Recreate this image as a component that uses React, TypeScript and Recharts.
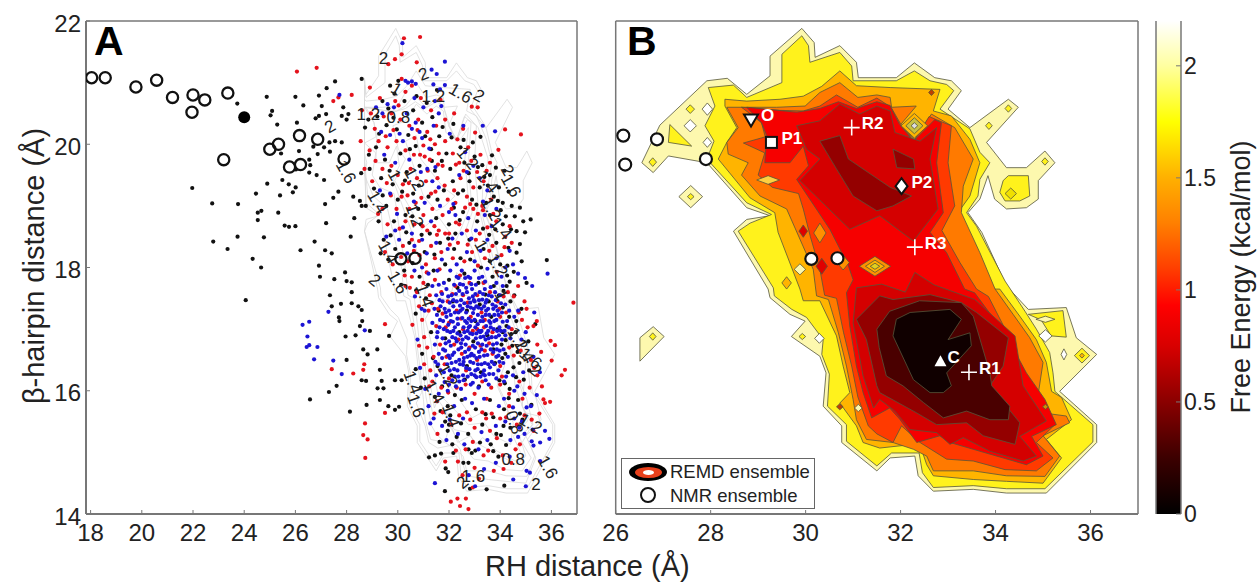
import { ComposedChart, Line, Scatter, XAxis, YAxis, Bar } from 'recharts'

// values: x = RH distance, y = beta-hairpin distance (angstrom)
const xTicksA = [18, 20, 22, 24, 26, 28, 30, 32, 34, 36]
const xTicksB = [26, 28, 30, 32, 34, 36]
const yTicks = [14, 16, 18, 20, 22]
const barTicks = [0, 0.5, 1, 1.5, 2]

const nmrOpen = [[18.04,21.08],[18.57,21.08],[19.77,20.93],[20.58,21.04],[21.2,20.76],[22.0,20.8],[22.46,20.72],[23.36,20.83],[21.96,20.52],[23.2,19.75],[25.0,19.92],[25.34,20.0],[26.16,20.14],[26.87,20.08],[25.77,19.63],[26.2,19.67],[27.9,19.76],[30.12,18.14],[30.67,18.15]]
const nmrFilled = [[24.0,20.44]]
const nmrInB = [[26.16,20.14],[26.87,20.08],[26.2,19.67],[27.9,19.76],[30.12,18.14],[30.67,18.15]]

const blackPts = [[23.73,20.66],[24.88,20.77],[26.0,20.77],[26.92,20.79],[26.31,20.63],[25.09,20.54],[25.03,20.47],[25.29,20.32],[26.06,20.35],[26.79,20.42],[26.92,20.46],[26.14,19.89],[26.7,19.96],[26.87,19.84],[25.44,19.85],[26.54,19.75],[26.58,19.66],[26.54,19.54],[26.83,19.5],[26.02,19.59],[21.97,19.29],[22.75,19.04],[23.76,19.03],[24.46,19.2],[24.9,19.36],[25.49,19.42],[25.74,19.35],[26.01,19.3],[25.9,19.22],[25.4,19.17],[24.53,18.89],[24.67,18.92],[24.53,18.77],[25.33,18.89],[25.58,18.68],[25.75,18.66],[26.0,18.67],[22.79,18.42],[23.74,18.5],[24.77,18.49],[23.35,18.3],[24.33,18.14],[24.66,18.0],[26.2,18.28],[26.75,18.42],[26.92,18.03],[26.96,17.85],[24.06,17.47],[26.57,15.86],
[27.55,21.02],[28.59,21.06],[27.22,20.91],[27.03,20.62],[27.2,20.49],[27.87,20.6],[27.81,20.46],[28.07,20.49],[28.0,20.4],[27.33,20.03],[27.55,20.05],[27.81,20.03],[27.12,19.95],[27.35,19.88],[27.12,19.42],[27.68,19.23],[27.48,19.13],[28.26,19.15],[28.52,19.08],[27.16,19.03],[28.59,19.0],[28.75,19.0],[28.3,18.8],[27.2,18.72],[28.16,18.5],[27.16,18.28],[27.42,18.23],[27.52,17.81],[27.94,17.92],[28.0,17.78],[28.2,17.76],[35.82,18.12],[35.19,18.78],[34.9,18.75],[34.77,18.97],[34.45,19.0],[34.64,18.59],[34.97,18.57],[34.77,18.38],[34.64,18.24],[34.84,18.1],[34.32,18.32],[35.03,17.75],
[27.35,17.55],[28.2,17.6],[27.78,17.41],[28.2,17.42],[27.42,17.37],[28.46,17.37],[28.59,17.31],[27.7,17.19],[27.72,17.13],[28.61,17.13],[28.52,17.05],[28.91,16.97],[27.96,16.88],[28.35,16.9],[28.65,16.67],[29.2,16.67],[28.82,16.59],[29.66,16.89],[28.0,16.5],[29.3,16.34],[28.59,16.17],[28.76,16.16],[29.37,16.16],[29.21,16.04],[29.44,16.04],[27.61,16.08],[27.31,15.98],[29.3,15.85],[28.78,15.77],[28.13,15.66],[29.63,15.75],[30.05,15.74],[29.89,15.69],[29.89,16.17],[30.15,16.17],
[31.22,14.92],[31.45,14.95],[31.69,14.98],[32.17,14.99],[31.87,14.74],[31.97,14.68],[31.84,14.37],[32.82,14.41],[33.47,14.4],[34.16,14.46],[32.56,14.83],[32.76,14.83],[32.89,14.99],[32.76,15.05],[33.73,15.02],[33.21,15.16]]

// dense part of the black cloud, estimated by eye
const blackCloud = [[29.7,20.95],[30.02,21.03],[29.4,20.7],[29.87,20.82],[30.26,20.7],[30.6,20.55],[29.2,20.45],[28.85,20.4],[29.56,20.31],[29.96,20.24],[30.41,20.15],[30.95,20.35],[31.35,20.44],[31.75,20.28],[32.1,20.11],[32.45,19.95],[31.9,19.85],[31.3,19.92],[30.7,19.97],[30.1,19.85],[29.5,19.75],[29.15,19.95],[28.9,19.6],[29.35,19.45],[29.8,19.35],[30.35,19.55],[30.85,19.65],[31.45,19.57],[32.05,19.6],[32.6,19.7],[33.0,19.8],[33.3,19.66],[33.6,19.5],[33.95,19.3],[33.2,19.3],[32.8,19.4],[32.35,19.2],[31.8,19.25],[31.2,19.15],[30.6,19.2],[30.0,19.1],[29.55,19.0],[29.25,18.75],[29.85,18.75],[30.3,18.85],[30.9,18.7],[31.5,18.8],[32.0,18.7],[32.55,18.9],[33.1,18.75],[33.6,18.85],[34.1,18.7],[33.85,18.4],[33.35,18.3],[32.8,18.45],[32.2,18.3],[31.65,18.4],[31.05,18.25],[30.45,18.4],[29.9,18.3],[29.45,18.45],[30.25,17.95],[30.85,17.85],[31.4,17.95],[32.0,17.8],[32.6,17.9],[33.15,17.75],[33.7,17.85],[34.25,17.7],[34.55,17.55],[34.1,17.35],[33.65,17.2],[33.2,17.4],[32.7,17.3],[32.15,17.45],[31.6,17.3],[31.1,17.5],[30.7,17.25],[31.3,16.95],[31.85,16.85],[32.4,16.95],[32.95,16.8],[33.5,16.9],[34.05,16.75],[34.6,16.95],[35.1,16.8],[34.75,16.45],[34.3,16.3],[33.8,16.45],[33.25,16.3],[32.7,16.4],[32.1,16.25],[31.55,16.4],[31.05,16.2],[31.45,15.9],[31.95,15.75],[32.05,15.6],[31.85,15.5],[32.0,15.45],[32.5,15.85],[33.05,15.7],[33.6,15.85],[34.15,15.7],[34.7,15.85],[34.4,15.4],[33.85,15.3],[33.3,15.45],[32.75,15.3],[32.3,15.25],[31.95,15.35],[30.9,16.05],[30.7,16.35],[30.95,16.6],[34.25,17.05],[33.9,17.0],[34.2,16.6],[34.1,16.95],[34.35,17.2],[34.4,17.45],[33.95,17.55],[33.75,17.7],[33.55,17.45],[34.0,18.05],[33.6,18.1],[33.25,18.0],[34.1,19.05],[33.75,19.15],[33.45,19.05],[32.9,19.1],[32.55,19.25],[32.25,18.55],[32.45,18.15],[31.85,18.05],[31.25,18.55],[30.8,18.95],[31.55,19.1],[32.15,19.4],
[29.63,20.58],[31.13,20.67],[30.28,19.41],[32.77,19.53],[33.83,19.62],[29.41,19.17],[31.72,19.73],[30.57,18.83],[33.38,19.47],[32.19,18.97],[34.33,19.23],[29.72,18.52],[31.43,18.21],[33.07,19.02],[30.13,17.72],[32.83,18.13],[34.57,18.83],[31.97,18.47],[33.57,18.53],[30.72,17.63],[34.28,18.03],[32.33,17.67],[33.42,17.56],[31.18,17.72],[34.83,17.33],[33.03,17.13],[34.63,17.13],[31.37,16.53],[33.73,16.67],[32.62,16.18],[34.47,16.73],[31.73,16.07],[35.37,17.08],[33.17,16.07],[34.92,16.18],[32.23,15.93],[34.37,16.03],[31.67,15.67],[35.13,16.33],[33.43,15.62],[34.03,15.28],[32.47,15.47],[35.22,15.77],[33.63,15.13],[34.87,15.53],[31.63,15.17],[32.13,15.13],[33.03,15.03],[34.23,15.12],[33.93,14.93],[34.27,17.87],[34.53,17.93],[34.13,17.62],[34.37,17.77],[34.43,16.92],[34.68,16.63],[34.21,16.82],[34.52,16.38],[34.08,16.53],[34.33,15.88],[34.62,16.22],[33.97,16.17],[34.18,16.12],[34.77,15.63],[34.13,15.43],[33.73,15.57],[33.33,18.63],[33.81,18.62],[34.02,18.93],[34.42,18.62],[34.22,18.83],[33.91,19.08],[33.52,19.33],[33.13,19.63],[34.17,19.57],[33.68,19.82],[32.93,20.03],[32.57,20.07],[33.23,20.12],[32.17,20.33],[31.62,20.13],[31.07,20.13],[30.47,19.92],[29.83,20.43],[29.27,20.17],[30.73,20.78],[31.53,20.88],[28.72,20.27],[28.87,19.83],[28.57,19.53],[29.07,19.28],[29.68,19.57],[30.17,19.23],[30.82,19.33],[31.33,19.73],[32.42,18.77],[30.33,18.57],[30.93,18.53],[29.63,18.13],[29.33,18.23],[30.58,18.07]]

const redPts = [[26.06,21.18],[26.83,21.24],[30.87,21.74],[30.24,21.72],[30.15,21.46],[29.89,21.38],[29.63,21.3],[30.74,21.33],[30.15,21.06],[28.91,20.92],[27.48,20.7],[28.2,20.8],[27.68,20.76],[34.19,20.24],[34.81,20.16],[33.93,19.91],[32.89,20.61],[33.12,20.6],[33.02,20.19],[27.42,16.35],[28.26,16.28],[28.65,16.34],[28.69,16.43],[29.5,17.08],[29.5,15.64],[28.72,15.47],[28.65,15.28],[28.82,15.21],[28.73,14.91],[36.86,17.43],[35.97,16.81],[36.14,16.74],[36.01,16.49],[36.53,16.34],[36.4,16.25],[35.69,15.86],[35.95,15.82],[35.75,15.8],[32.07,14.2],[32.33,14.25],[32.66,14.25],[32.43,14.13],[32.76,14.08]]

// dense part of the red cloud, estimated by eye
const redCloud = [[29.3,20.75],[29.9,20.7],[30.3,20.85],[30.55,20.95],[30.9,20.75],[31.3,20.55],[28.6,20.55],[28.95,20.5],[29.1,20.25],[29.45,20.45],[29.75,20.5],[30.1,20.4],[30.45,20.3],[30.8,20.4],[31.15,20.2],[31.5,20.3],[31.85,20.4],[32.2,20.5],[32.55,20.25],[28.55,20.05],[28.9,19.9],[29.25,20.05],[29.6,19.95],[29.95,20.05],[30.3,19.9],[30.65,20.1],[31.0,19.98],[31.05,19.8],[31.25,19.75],[31.45,20.0],[31.6,19.85],[31.85,20.05],[32.15,19.85],[32.4,19.7],[32.75,19.95],[33.1,19.55],[33.35,19.4],[33.6,19.7],[28.7,19.6],[29.0,19.4],[29.4,19.6],[29.75,19.65],[30.0,19.5],[30.2,19.35],[30.5,19.6],[30.75,19.45],[31.1,19.4],[31.3,19.2],[31.55,19.45],[31.75,19.65],[31.95,19.1],[32.2,19.25],[32.25,19.05],[32.45,19.45],[32.7,19.15],[32.95,19.3],[33.3,19.0],[33.65,19.1],[29.4,18.95],[29.6,18.7],[29.95,18.95],[30.15,19.15],[30.3,18.75],[30.45,18.95],[30.65,18.7],[30.7,19.05],[31.0,18.85],[31.15,18.6],[31.35,18.95],[31.6,18.6],[31.75,18.85],[32.0,18.55],[32.1,18.95],[32.4,18.7],[32.7,18.6],[32.95,18.95],[33.2,18.55],[33.5,18.65],[33.85,18.75],[34.2,18.5],[29.5,18.25],[29.8,18.05],[30.2,18.35],[30.4,18.1],[30.55,18.45],[30.85,18.2],[31.1,18.05],[31.3,18.35],[31.45,18.15],[31.7,18.25],[31.85,18.55],[32.15,18.15],[32.35,18.4],[32.6,18.1],[32.9,18.25],[33.05,18.45],[33.4,18.15],[33.7,18.35],[34.05,18.2],[34.45,18.4],[30.3,17.7],[30.55,17.85],[30.75,17.6],[31.0,17.75],[31.25,17.55],[31.45,17.8],[31.7,17.6],[31.95,17.45],[32.25,17.7],[32.55,17.55],[32.8,17.75],[33.1,17.55],[33.35,17.75],[33.6,17.6],[33.9,17.45],[34.3,17.6],[34.7,17.7],[34.95,17.45],[30.95,17.15],[31.2,17.3],[31.5,17.05],[31.75,17.25],[32.0,17.1],[32.3,17.3],[32.55,17.0],[32.85,17.2],[33.1,17.0],[33.4,17.15],[33.7,16.95],[34.0,17.2],[34.45,17.0],[34.85,17.15],[35.3,17.05],[31.15,16.7],[31.4,16.55],[31.65,16.75],[31.9,16.55],[32.2,16.75],[32.5,16.6],[32.8,16.7],[33.1,16.5],[33.4,16.65],[33.7,16.6],[34.0,16.4],[34.35,16.7],[34.8,16.65],[35.2,16.5],[35.45,16.75],[31.35,16.15],[31.7,16.05],[32.0,16.2],[32.3,16.05],[32.65,16.1],[33.0,15.95],[33.3,16.15],[33.65,16.05],[34.0,16.1],[34.35,15.95],[34.75,16.15],[35.15,16.05],[35.45,16.25],[31.75,15.65],[32.1,15.45],[32.4,15.6],[32.7,15.65],[33.0,15.4],[33.3,15.65],[33.45,15.55],[33.6,15.35],[34.0,15.55],[34.35,15.75],[34.65,15.45],[34.95,15.6],[35.3,15.35],[32.35,14.85],[32.65,15.05],[33.0,14.75],[33.35,14.95],[33.75,14.7],[34.1,14.95],[34.6,15.05],[31.55,15.3],[31.85,14.85],
[30.03,20.63],[31.67,20.72],[29.53,20.13],[30.77,20.23],[32.33,20.08],[31.27,20.08],[29.13,19.73],[30.87,19.83],[32.57,19.57],[33.23,19.83],[30.38,19.17],[31.83,19.33],[32.87,19.73],[29.73,19.17],[31.47,19.23],[33.47,19.57],[30.92,19.13],[32.63,18.97],[29.23,18.87],[30.83,18.43],[32.27,18.73],[33.73,18.87],[30.07,18.63],[31.53,18.53],[33.33,18.93],[34.37,18.67],[30.63,18.27],[32.03,18.37],[33.57,18.27],[30.97,18.67],[32.73,18.37],[34.17,18.33],[30.27,17.87],[31.63,17.97],[33.13,18.03],[34.53,17.53],[31.13,17.92],[32.43,17.87],[33.87,17.93],[31.33,17.42],[32.73,17.43],[34.13,17.53],[30.83,17.37],[32.13,17.57],[33.27,17.27],[34.73,17.27],[31.57,17.33],[32.93,16.97],[34.23,17.27],[31.03,16.87],[32.37,16.83],[33.57,16.77],[35.07,17.03],[31.83,16.43],[33.23,16.73],[34.53,16.57],[31.27,16.33],[32.67,16.33],[34.07,16.23],[35.33,16.37],[31.97,15.97],[33.47,15.87],[34.87,15.87],[31.53,15.83],[32.83,15.53],[34.23,15.57],[35.23,15.53],[32.27,15.03],[33.67,15.63],[34.77,15.13],[32.53,14.63],[33.87,15.23],[33.17,14.57],[32.93,14.43],[34.43,14.83],[30.57,17.07],[30.83,16.73],[31.03,16.43],[31.23,16.07],[31.43,15.63],[35.03,17.33],[35.43,17.13],[35.6,16.63],[35.63,16.07],[35.53,15.63],[32.93,15.17],[33.53,15.03],[34.13,14.73],[29.83,20.23],[30.63,19.83],[31.57,19.67],[32.27,19.67],[31.17,19.57],[30.43,19.37],[29.57,19.37],[32.83,19.03],[33.13,18.87],[31.43,18.67],[30.13,18.17],[30.47,17.67],[33.97,17.33],[33.37,17.03],[32.47,17.17],[31.87,17.03]]

const bluePts = [[26.28,17.07],[26.54,17.12],[26.47,16.88],[26.44,16.71],[26.54,16.74],[26.86,16.71],[26.73,16.51],[27.29,17.28],[27.48,16.49],[27.81,16.27],[28.71,16.98],[30.18,21.64],[31.84,21.34],[31.32,21.21],[31.52,21.14],[31.84,20.96],[31.65,20.89],[31.39,20.97],[27.72,20.8],[33.32,20.3],[32.56,20.3],[33.8,20.21],[30.3,21.03],[30.4,21.0],[30.55,21.02],[30.7,20.98],
[35.56,14.86],[35.03,14.7],[35.16,14.67],[34.51,14.56],[35.0,14.45],[31.45,14.5],[33.02,14.45],[35.75,15.35],[35.92,15.22],[35.56,15.16],[35.23,15.18],[35.3,15.11],[34.7,15.25],[34.85,15.5],[34.95,15.3],[34.55,15.55],[34.75,15.4],[34.4,15.2],[34.2,15.5],[33.95,15.75],[33.5,15.2],[33.15,15.05],[32.55,15.55],[32.2,15.75],[31.9,15.2],[31.4,15.55],[31.2,15.75],[31.6,15.95],[31.95,16.0],[32.35,15.3],[32.9,15.8]]

// upper and lower blue scatter, estimated by eye
const blueScatter = [[29.15,20.6],[29.4,20.5],[29.6,20.65],[29.85,20.6],[30.35,20.5],[30.65,20.75],[31.0,20.6],[31.45,20.7],[31.7,20.62],[31.6,20.5],[31.4,20.3],[30.55,20.25],[30.85,20.2],[30.95,20.1],[30.7,20.35],[29.35,20.2],[29.7,20.15],[29.9,19.7],[30.2,20.05],[30.45,19.75],[30.9,19.55],[31.15,19.6],[31.35,19.4],[31.6,19.3],[32.4,19.5],[32.7,19.55],[32.95,19.65],[33.2,19.45],[33.5,19.25],[33.85,18.95],[33.4,18.85],[33.05,18.6],[32.75,18.8],[32.5,18.55],[32.25,18.85],[32.0,18.9],[31.65,19.0],[31.3,18.75],[31.05,19.05],[30.55,18.55],[30.2,18.65],[29.9,18.6],[29.7,19.2],[29.3,19.25],[29.55,18.5],[30.05,18.45],[30.65,18.35],[30.95,18.45],[31.5,18.4],[31.95,18.3],[32.3,18.05],[32.7,18.25],[33.0,18.1],[33.5,18.45],[33.85,18.15],[34.2,18.0],[34.5,18.05],[35.85,17.9],[35.25,17.7],[34.7,17.9],[30.65,17.95],[30.95,18.0],[31.2,17.9],[31.55,17.95],[31.8,17.75],[32.05,17.95],[32.3,17.85],[32.5,17.95],[32.75,17.85],[33.0,17.95],[33.3,17.85],[33.5,17.98],[33.85,17.75],[34.05,17.85],
[30.07,20.17],[31.23,19.93],[32.03,20.17],[32.63,19.87],[29.47,19.83],[30.63,19.07],[31.47,19.63],[33.33,19.07],[32.17,19.03],[29.97,18.87],[31.13,18.23],[32.87,18.47],[33.67,18.67],[32.13,18.47],[30.37,18.23],[31.72,18.13],[33.23,18.27],[34.37,18.27],[34.97,17.83],[35.33,17.27],[34.83,16.83],[35.43,15.93],[35.03,15.73],[34.67,16.07],[35.27,15.37],[34.37,14.93],[33.83,14.83],[33.37,14.73],[32.77,14.63],[32.6,15.13],[33.27,15.33],[33.83,15.43],[34.5,15.73],[34.15,15.87],[33.37,15.87],[32.63,15.87],[32.03,15.53],[31.73,15.43],[31.27,15.47],[31.07,16.03],[30.87,16.37],[30.77,16.83],[30.93,17.33],[30.67,17.53]]

// blue core, almost solid in the figure, estimated by eye
const blueCore = [[31.05,17.3],[31.35,17.7],[31.5,17.55],[31.6,17.72],[31.75,17.45],[31.9,17.65],[32.0,17.3],[32.1,17.55],[32.2,17.72],[32.3,17.45],[32.4,17.62],[32.45,17.3],[32.55,17.72],[32.6,17.42],[32.7,17.6],[32.78,17.5],[32.85,17.35],[32.9,17.65],[33.0,17.45],[33.05,17.72],[33.15,17.35],[33.2,17.6],[33.3,17.48],[33.4,17.65],[33.45,17.3],[33.55,17.55],[33.7,17.4],[33.8,17.6],[33.9,17.3],[34.0,17.55],[34.1,17.7],[34.2,17.4],[34.35,17.3],[34.55,17.2],[31.35,17.1],[31.55,16.95],[31.65,17.15],[31.8,17.0],[31.9,17.2],[32.05,16.95],[32.15,17.12],[32.25,16.85],[32.35,17.08],[32.45,16.9],[32.52,17.18],[32.6,16.95],[32.7,17.1],[32.75,16.85],[32.82,17.05],[32.92,16.92],[33.0,17.15],[33.05,16.85],[33.12,17.08],[33.22,16.95],[33.3,17.2],[33.35,16.88],[33.45,17.05],[33.55,16.85],[33.62,17.1],[33.75,17.0],[33.85,17.15],[33.95,16.9],[34.1,17.12],[34.2,16.9],[34.4,16.85],[34.7,17.3],[35.0,16.95],[31.45,16.75],[31.6,16.6],[31.75,16.85],[31.85,16.65],[32.0,16.8],[32.1,16.45],[32.2,16.62],[32.3,16.8],[32.4,16.5],[32.48,16.7],[32.55,16.42],[32.65,16.75],[32.72,16.55],[32.8,16.35],[32.88,16.6],[32.95,16.45],[33.02,16.7],[33.12,16.35],[33.2,16.55],[33.3,16.75],[33.4,16.45],[33.5,16.58],[33.6,16.38],[33.72,16.75],[33.85,16.55],[33.98,16.65],[34.12,16.45],[34.3,16.55],[34.5,16.25],[34.9,16.3],[35.3,16.55],[35.55,16.3],[31.5,16.25],[31.8,16.3],[32.0,16.1],[32.2,16.35],[32.4,16.15],[32.55,16.25],[32.85,16.1],[33.0,16.25],[33.15,16.05],[33.4,16.25],[33.55,16.1],[33.85,16.2],[34.15,16.15],[34.55,16.0],[34.95,15.95],[35.2,15.75],
[32.37,17.83],[33.07,16.22],[32.43,17.38],[33.88,16.97],[32.13,16.58],[33.41,17.77],[31.83,16.14],[32.94,17.26],[34.03,17.42],[32.27,16.07],[33.63,17.68],[32.58,16.53],[31.67,17.37],[33.27,16.43],[32.83,17.83],[33.93,16.33],[32.07,17.23],[33.53,16.97],[31.93,16.43],[32.67,17.27],[33.17,17.83],[34.07,16.83],[32.33,16.33],[33.77,17.23],[31.53,16.87],[32.87,16.27],[33.37,17.37],[32.17,17.37],[33.67,16.47],[32.63,17.83],[31.97,17.53],[33.13,16.77],[34.27,17.13],[32.47,16.03],[33.83,17.47],[31.73,16.53],[32.77,17.17],[33.43,16.17],[32.23,17.03],[33.03,17.57],[33.57,17.23],[31.87,16.77],[32.53,16.83],[33.97,17.03],[32.93,16.13],[33.33,17.57],[32.03,16.33],[33.73,16.27],[31.63,17.47],[32.73,16.97],[33.23,16.23],[32.27,17.57],[34.13,16.67],[32.83,16.47],[33.47,17.47],[31.77,17.13],[32.57,17.03],[33.07,17.37],[33.87,16.77],[32.37,16.67],[32.97,17.47],[33.63,16.67],[32.13,16.87],[33.27,16.97],[31.43,17.33],[32.67,16.37],[33.53,17.33],[32.47,17.47],[33.17,16.63],[34.23,16.23],[31.97,17.07],[32.77,16.67],[33.43,16.83],[32.33,17.17],[33.77,16.43],[31.57,16.43],[32.87,17.73],[33.37,16.33],[32.07,16.73],[33.93,17.23],[32.53,17.57],[33.07,16.93],[33.67,17.53],[31.83,17.33],[32.63,16.63],[33.23,17.13],[32.23,16.23],[33.03,17.03],[33.83,16.87],[32.43,16.43],[33.47,16.73],[31.73,17.57],[32.93,16.73],[33.33,17.13],[32.17,17.47],[33.57,16.27],[32.73,17.37],[31.47,16.47],[33.13,17.23],[32.83,16.93],[34.33,17.03],[32.03,17.43],[33.63,17.03],[32.57,16.17],[33.97,16.47],[31.93,16.97],[32.37,17.27],[33.27,16.67],[32.97,16.57],[33.73,17.33],[31.67,16.33],[32.47,16.77],[33.17,17.47],[32.77,17.03],[34.07,17.27],[32.27,16.47],[33.43,17.23],[31.87,17.27],[32.67,16.87],[33.53,16.43],[32.13,16.17],[33.83,17.37],[32.93,17.53],[33.07,16.53],[32.33,16.93],[33.67,16.87],[31.53,17.23],[32.63,17.13],[33.37,16.57],[32.07,17.13],[33.77,17.13],[32.83,17.43],[33.23,16.87],[32.43,17.73],[33.93,16.57],[31.77,16.67],[32.57,16.47],[33.13,16.43],[32.97,17.33],[34.17,16.97],[32.23,17.27],[33.47,16.93],[31.97,16.57],[33.57,17.13],[32.73,16.23],[33.33,16.27],[32.17,16.97],[33.87,16.67],[32.87,17.13],[33.03,16.33],[32.53,17.33],[31.63,17.03],[33.27,17.33],[32.37,16.23],[33.73,16.63],[32.67,17.67],[33.17,16.97],[32.03,16.53],[33.43,17.43],[32.83,16.57],[34.03,16.97]]

// filled contour polygons of panel B, outermost level first
const level20 = [[26.55,19.7],[26.93,20.31],[27.92,21.03],[28.35,21.07],[28.76,20.81],[29.25,21.11],[29.25,21.43],[29.92,21.88],[30.18,21.65],[30.2,21.41],[30.72,21.6],[31.07,21.33],[31.11,21.08],[31.91,21.08],[32.29,21.32],[32.72,21.08],[33.07,21.03],[33.28,20.87],[33.0,20.57],[33.46,20.27],[34.27,20.73],[34.48,20.6],[33.81,20.03],[34.23,19.62],[34.65,19.62],[35.04,19.89],[35.25,19.7],[34.9,19.41],[34.9,19.11],[34.65,18.97],[34.23,18.95],[33.98,19.11],[33.84,19.49],[33.67,19.11],[33.42,18.89],[33.71,18.57],[34.23,17.7],[34.69,17.32],[35.49,17.35],[35.7,16.86],[36.13,16.59],[35.35,15.99],[36.13,15.45],[36.13,15.16],[35.07,14.34],[34.23,14.34],[33.53,14.4],[32.69,14.37],[32.37,14.62],[32.3,14.94],[31.78,14.91],[31.5,14.7],[30.76,15.16],[30.76,15.43],[30.37,15.75],[30.43,16.29],[30.3,16.56],[29.7,16.88],[29.99,17.13],[29.67,17.24],[29.25,17.51],[29.21,17.65],[28.48,18.59],[28.76,18.78],[29.25,18.84],[28.76,18.97],[27.92,19.7],[27.11,19.81],[26.79,19.54]]
const level20Lobe = [[26.51,16.86],[26.79,17.04],[27.02,16.88],[26.51,16.48]]
const level18Wing = [[27.14,20.32],[27.6,19.97],[27.11,20.03]]
const level18 = [[27.92,19.76],[28.76,19.05],[29.28,18.86],[28.83,18.72],[28.58,18.59],[29.32,17.67],[29.34,17.54],[29.71,17.32],[30.02,17.19],[30.37,16.83],[30.34,16.59],[30.5,16.27],[30.46,15.75],[30.86,15.45],[30.86,15.18],[31.5,14.78],[31.81,14.99],[32.39,14.99],[32.46,14.67],[32.69,14.43],[33.53,14.46],[34.23,14.41],[35.04,14.41],[36.05,15.17],[36.05,15.45],[35.25,15.99],[35.21,16.29],[35.14,16.62],[34.86,17.0],[34.62,17.29],[34.2,17.78],[33.6,18.67],[33.39,18.89],[33.63,19.16],[33.67,19.43],[33.88,19.7],[33.67,19.87],[33.46,20.25],[32.83,20.57],[33.12,20.87],[32.97,20.97],[32.62,21.03],[32.29,21.19],[31.91,21.03],[31.0,21.03],[30.97,21.27],[30.72,21.49],[30.09,21.33],[30.06,21.6],[29.92,21.76],[29.5,21.46],[29.5,21.0],[28.76,20.76],[28.48,20.96],[27.95,20.92],[28.09,20.62],[27.88,20.3],[28.07,20.05]]
const level18Lobe = [[34.69,17.24],[35.42,17.3],[35.49,16.87],[35.17,16.89],[34.96,17.15]]
const level18Spur = [[34.16,19.41],[34.27,19.49],[34.69,19.49],[34.72,19.16],[34.51,19.08],[34.2,19.08],[34.09,19.22]]
const level16 = [[28.34,20.03],[28.55,20.27],[28.3,20.62],[28.3,20.73],[28.76,20.7],[29.46,20.73],[29.95,20.78],[30.34,20.94],[30.72,21.19],[31.07,20.95],[31.78,20.92],[32.83,20.89],[32.69,20.54],[33.07,20.46],[33.46,20.08],[33.67,19.7],[33.46,19.16],[33.21,18.89],[33.39,18.57],[33.88,17.65],[34.09,17.65],[34.51,17.21],[34.86,16.83],[35.07,16.46],[35.18,15.99],[35.39,15.89],[35.6,15.53],[35.07,15.21],[35.39,14.91],[35.0,14.5],[34.23,14.53],[33.53,14.56],[32.69,14.62],[32.55,14.8],[32.44,15.05],[32.27,15.13],[31.56,15.07],[31.21,15.16],[31.07,15.43],[30.72,15.8],[30.93,15.97],[30.79,16.4],[30.65,16.89],[30.3,17.46],[29.95,17.46],[29.88,17.65],[29.42,18.57],[29.35,18.89],[28.83,19.13],[28.16,19.76]]
const level14 = [[28.34,20.03],[28.58,20.27],[28.34,20.6],[29.39,20.6],[29.99,20.62],[30.3,20.84],[30.72,21.0],[31.1,20.76],[31.5,20.8],[31.78,20.76],[31.81,20.6],[32.33,20.62],[31.98,20.3],[32.3,20.08],[32.65,20.49],[33.14,20.27],[33.53,19.76],[33.32,19.32],[33.28,18.89],[33.67,18.24],[33.99,17.65],[34.37,17.24],[34.72,16.86],[35.0,16.46],[34.86,15.75],[35.0,15.64],[35.49,15.59],[35.56,15.48],[35.0,15.27],[35.35,14.94],[35.04,14.61],[34.23,14.62],[33.53,14.7],[32.69,14.7],[32.55,14.94],[32.27,15.05],[31.84,15.16],[31.28,15.21],[31.07,15.53],[31.0,15.86],[30.86,16.4],[30.69,16.94],[30.48,17.48],[30.23,17.54],[30.16,17.97],[29.88,18.46],[29.6,18.95],[29.04,19.16],[28.65,19.5],[28.79,19.7],[28.37,19.84]]
const level12 = [[28.69,20.02],[29.15,20.12],[29.07,20.35],[28.65,20.6],[29.45,20.55],[29.95,20.54],[30.3,20.62],[30.65,20.8],[31.1,20.6],[31.5,20.75],[31.8,20.6],[32.0,20.33],[32.28,20.05],[32.6,20.45],[32.75,20.4],[33.07,20.3],[33.0,19.7],[33.14,19.0],[32.87,18.6],[33.25,18.08],[33.6,17.65],[33.85,17.53],[34.27,16.9],[34.45,16.5],[34.86,15.97],[34.86,15.75],[35.25,15.45],[34.86,15.16],[35.21,14.91],[34.86,14.7],[34.2,14.72],[33.53,14.86],[32.97,14.89],[32.41,15.16],[32.02,15.43],[31.84,15.16],[31.5,15.3],[31.32,15.43],[31.1,15.9],[30.97,16.4],[30.8,16.94],[30.65,17.5],[30.4,17.55],[30.3,17.97],[30.1,18.5],[29.95,18.95],[29.85,19.2],[29.3,19.3],[29.0,19.5],[29.14,19.86]]
const level10 = [[28.76,20.6],[29.81,20.52],[30.3,20.58],[30.69,20.69],[31.07,20.58],[31.5,20.69],[31.78,20.63],[31.81,20.57],[31.98,20.32],[32.27,20.05],[32.72,20.4],[32.86,20.35],[32.76,19.7],[32.9,18.89],[32.62,18.57],[32.97,18.24],[33.35,17.65],[33.56,17.59],[34.23,16.89],[34.65,16.29],[35.04,15.86],[35.28,15.45],[34.76,15.26],[35.0,14.94],[34.65,14.8],[34.2,14.9],[33.53,15.05],[33.04,15.16],[32.83,15.27],[32.34,15.16],[31.98,15.54],[31.77,15.72],[31.39,15.56],[31.21,15.97],[31.07,16.4],[30.93,17.05],[30.86,17.59],[31.0,17.8],[30.9,18.03],[30.51,18.62],[29.81,19.43],[30.06,19.65],[29.95,19.97],[29.67,19.7],[29.14,19.7],[29.18,20.14],[29.07,20.35]]
const level08Upper = [[29.81,20.3],[30.3,20.38],[30.72,20.65],[31.14,20.49],[31.5,20.62],[31.78,20.54],[31.88,20.19],[32.41,20.05],[32.76,20.27],[32.62,19.76],[32.79,18.95],[32.27,18.43],[31.56,18.84],[30.93,18.62],[29.88,19.41],[30.3,19.76],[30.02,19.92]]
const level08Lower = [[32.3,17.92],[32.7,17.72],[33.56,17.48],[34.41,16.89],[34.58,16.08],[35.07,15.51],[34.51,15.26],[34.86,14.94],[34.58,14.86],[33.88,15.02],[33.32,15.24],[33.04,15.13],[32.76,15.32],[32.2,15.37],[31.88,15.67],[31.56,15.86],[31.43,15.72],[31.21,16.24],[31.0,17.1],[31.07,17.67],[31.6,17.73],[32.1,17.6]]
const level06Upper = [[30.3,20.05],[30.72,20.14],[30.9,19.76],[31.78,19.3],[32.23,19.16],[31.84,19.0],[31.5,18.92],[31.0,19.16],[30.65,19.6]]
const level06Spot = [[31.84,19.92],[32.27,19.76],[32.3,19.6],[31.92,19.62]]
const level06Lower = [[31.84,17.48],[32.62,17.56],[33.28,17.43],[33.6,17.27],[34.27,16.86],[34.16,16.4],[33.88,16.08],[34.51,15.48],[34.41,15.13],[33.74,15.27],[33.39,15.48],[32.76,15.45],[32.34,15.64],[31.56,15.97],[31.5,16.08],[31.28,16.83],[31.07,17.16],[31.56,17.54]]
const level04 = [[31.77,17.29],[32.4,17.46],[33.28,17.43],[33.53,17.21],[33.88,16.29],[33.92,16.08],[34.3,15.75],[34.27,15.53],[33.88,15.53],[33.39,15.67],[32.9,15.56],[32.48,15.81],[32.05,16.08],[31.7,16.24],[31.55,16.7],[31.5,17.0]]
const level02 = [[31.91,17.16],[32.2,17.27],[33.04,17.32],[33.28,17.16],[33.0,16.83],[33.46,16.94],[33.49,16.73],[32.97,16.29],[33.07,16.08],[32.9,15.97],[32.62,15.97],[32.27,16.18],[31.84,16.89]]

const PALE = '#fdf8ae', YELLOW = '#fff21c', AMBER = '#ffb400', ORANGE = '#ff7a00', REDORANGE = '#ff3a00', RED = '#f60000', DEEP = '#d40000', DARK = '#940000', DARKER = '#4a0000', BLACKISH = '#100000'

const contours: [number[][], string][] = [
  [level20, PALE], [level20Lobe, PALE], [level18Wing, YELLOW], [level18Spur, YELLOW], [level18Lobe, YELLOW], [level18, YELLOW],
  [level16, AMBER], [level14, ORANGE], [level12, REDORANGE], [level10, RED], [level08Upper, DEEP], [level08Lower, DEEP],
  [level06Upper, DARK], [level06Spot, DARK], [level06Lower, DARK], [level04, DARKER], [level02, BLACKISH],
]

// the faint contours behind panel A start further right than the filled ones
const faintContours = [level20, level18, level16, level14, level12, level10, level08Upper, level08Lower, level06Upper, level06Lower, level04]
const faintLeftEdge = 28.7

// small closed contours: centre x, centre y, half width, half height, colour
const islands: [number, number, number, number, string][] = [
  [27.57,20.57,.09,.07,YELLOW],[27.93,20.57,.11,.1,'#fff'],[27.57,20.3,.13,.1,'#fff'],[27.93,20.03,.09,.08,'#fff'],[26.78,19.71,.08,.07,YELLOW],
  [27.58,19.15,.25,.18,PALE],[27.58,19.15,.07,.05,YELLOW],[29.21,19.42,.24,.07,'#ffd040'],[29.95,18.59,.09,.1,'#e00000'],[30.3,18.56,.13,.16,'#ff9000'],
  [30.34,18.02,.12,.13,'#e00000'],[30.79,18.08,.13,.12,'#ff9000'],[31.46,18.02,.33,.16,'#ff9000'],[31.46,18.02,.2,.1,AMBER],[31.46,18.02,.1,.05,'#e0d020'],
  [29.88,17.97,.12,.09,PALE],[29.6,17.75,.1,.1,AMBER],[32.29,20.3,.28,.2,AMBER],[32.29,20.3,.18,.13,'#c8c040'],[32.29,20.3,.07,.05,'#ddd'],[32.65,20.84,.06,.05,'#c04000'],
  [33.86,20.3,.07,.06,YELLOW],[34.27,20.58,.07,.06,YELLOW],[35.04,19.72,.07,.06,YELLOW],[34.32,19.2,.12,.09,'#f0e000'],
  [26.78,16.88,.07,.06,YELLOW],[29.93,16.88,.07,.05,YELLOW],[30.29,16.85,.1,.08,'#fff'],[30.72,15.74,.07,.05,'#c04000'],[31.11,15.72,.08,.06,PALE],
  [35.05,17.16,.2,.05,PALE],[35.05,16.89,.14,.1,'#fff'],[35.44,16.59,.06,.09,'#fff'],[35.82,16.57,.16,.12,YELLOW],[35.82,16.57,.05,.04,AMBER],[35.05,15.74,.06,.04,'#d09000'],
]

// contour labels of panel A: x, y, text, rotation
const contourLabels: [number, number, string, number][] = [
  [29.44,21.38,'2',0],[31.02,21.12,'2',-20],[32.43,20.81,'1.6',30],[33.15,20.77,'2',30],[31.39,20.76,'1.2',0],[29.92,20.88,'1',30],[28.85,20.46,'1.2',0],[30.02,20.41,'0.8',0],
  [27.38,20.27,'2',-30],[27.94,19.54,'1.6',60],[34.38,19.32,'1.6',60],[34.25,19.57,'2',60],[29.59,18.24,'1.4',60],[29.96,17.75,'1.6',60],[29.07,17.78,'2',40],
  [34.51,14.86,'0.8',0],[35.82,14.75,'1.6',60],[35.4,14.47,'2',0],[35.16,15.45,'1.2',30],[32.95,14.6,'1.6',0],[32.56,14.5,'2',-40],[30.67,15.75,'1.6',70],[30.54,16.13,'1.4',70],[35.36,16.32,'2',40],[34.51,15.48,'0.8',70],
  [30.61,19.43,'1.2',60],[29.17,19.05,'1.4',60],[32.69,19.76,'1.2',50],[33.47,19.38,'1.4',50],[33.6,18.94,'1.2',60],[33.99,18.62,'1.4',50],[33.21,18.35,'1',60],[33.86,18.03,'1.2',60],[29.83,19.49,'1',60],[30.61,18.84,'1.2',70],
  [34.64,16.83,'1.2',60],[34.9,16.64,'1.4',60],[31.91,16.24,'1.2',60],[32.04,15.59,'1.4',70],[31.39,15.97,'1.4',60],[31.0,17.54,'1.4',70],[33.99,17.54,'1',60],[35.16,16.51,'1.6',40],
]

// point markers of panel B: x, y, label, kind
const markers: [number, number, string, string][] = [
  [28.85,20.4,'O','down'],[29.28,20.03,'P1','square'],[32.02,19.32,'P2','diamond'],[32.84,16.48,'C','up'],[33.44,16.3,'R1','plus'],[30.97,20.27,'R2','plus'],[32.3,18.33,'R3','plus'],
]

const barStops: [number, string][] = [[0,'#000000'],[0.25,'#3c0000'],[0.5,'#8a0000'],[0.75,'#d80000'],[0.93,'#ff0000'],[1.1,'#ff4000'],[1.3,'#ff8000'],[1.5,'#ffb000'],[1.65,'#ffe000'],[1.75,'#ffff00'],[2.0,'#ffffa0'],[2.2,'#ffffff']]
const barMax = 2.2

const FONT = '"Liberation Sans", Arial, sans-serif'
const AXIS = '#777777'
const rows = (pts: number[][]) => pts.map(([x, y]) => ({ x, y }))

const dotShape = (fill: string) => (p: any) => <circle cx={p.cx} cy={p.cy} r={2.1} fill={fill} />
const ringShape = (p: any) => <circle cx={p.cx} cy={p.cy} r={5.6} fill="none" stroke="#111" strokeWidth={2.3} />
const whiteRing = (p: any) => <circle cx={p.cx} cy={p.cy} r={6} fill="#fff" stroke="#111" strokeWidth={2.2} />
const fullDot = (p: any) => <circle cx={p.cx} cy={p.cy} r={6} fill="#000" />

const labelShape = (p: any) => (
  <text x={p.cx} y={p.cy} fontSize={17} fontFamily={FONT} fill="#222" textAnchor="middle" dominantBaseline="middle"
    transform={`rotate(${p.payload.r} ${p.cx} ${p.cy})`}>{p.payload.t}</text>
)

const markerShape = (p: any) => {
  const { cx, cy } = p
  const kind = p.payload.kind
  const s = { fill: '#fff', stroke: '#111', strokeWidth: 2 }
  let glyph = <g />
  if (kind === 'down') glyph = <polygon points={`${cx - 7},${cy - 5} ${cx + 7},${cy - 5} ${cx},${cy + 7}`} {...s} />
  if (kind === 'up') glyph = <polygon points={`${cx - 6},${cy + 5} ${cx + 6},${cy + 5} ${cx},${cy - 6}`} fill="#fff" />
  if (kind === 'square') glyph = <rect x={cx - 5.5} y={cy - 5.5} width={11} height={11} {...s} />
  if (kind === 'diamond') glyph = <polygon points={`${cx},${cy - 8} ${cx + 6},${cy} ${cx},${cy + 8} ${cx - 6},${cy}`} {...s} />
  if (kind === 'plus') glyph = <path d={`M${cx - 8} ${cy}H${cx + 8}M${cx} ${cy - 8}V${cy + 8}`} stroke="#fff" strokeWidth={1.6} fill="none" />
  return (
    <g>
      {glyph}
      <text x={cx + (kind === 'up' ? 7 : 10)} y={cy - 3} fontSize={17} fontWeight="bold" fontFamily={FONT} fill="#fff" dominantBaseline="middle">{p.payload.name}</text>
    </g>
  )
}

// the polygon is drawn from the scaled points the Line hands to its first dot
const polygonDot = (fill: string) => (p: any) =>
  p.index === 0 ? (
    <polygon key="poly" points={p.points.map((q: any) => `${q.x},${q.y}`).join(' ')} fill={fill} stroke="#55553a" strokeWidth={0.8} strokeLinejoin="round" />
  ) : (
    <g key={p.index} />
  )

const diamond = (cx: number, cy: number, rx: number, ry: number) => [[cx - rx, cy], [cx, cy + ry], [cx + rx, cy], [cx, cy - ry]]

const tickStyle = { fontSize: 24, fontFamily: FONT, fill: '#222' }

function PanelA() {
  return (
    <ComposedChart width={1259} height={583} margin={{ top: 20, right: 681, bottom: 39, left: 46 }} style={{ position: 'absolute', left: 0, top: 0 }}>
      <XAxis dataKey="x" type="number" domain={[17.82, 37]} ticks={xTicksA} allowDataOverflow height={30} tickSize={-4} tickMargin={14} tick={tickStyle} stroke={AXIS} strokeWidth={2} tickLine={{ stroke: AXIS, strokeWidth: 1 }} />
      <XAxis xAxisId="top" orientation="top" type="number" domain={[17.82, 37]} ticks={xTicksA} height={1} tickSize={-4} tick={false} stroke={AXIS} strokeWidth={1.5} />
      <YAxis dataKey="y" type="number" domain={[14, 22]} ticks={yTicks} allowDataOverflow width={40} tickSize={-4} tickMargin={9} tick={{ ...tickStyle, dy: 2 }} stroke={AXIS} strokeWidth={2} tickLine={{ stroke: AXIS, strokeWidth: 1 }} />
      <YAxis yAxisId="right" orientation="right" type="number" domain={[14, 22]} ticks={[16, 18, 20]} width={1} tickSize={-4} tick={false} stroke={AXIS} strokeWidth={1.5} />
      {faintContours.map((pts, i) => (
        <Line key={i} data={rows([...pts, pts[0]].map(([x, y]) => [Math.max(x, faintLeftEdge), y]))} dataKey="y" stroke="#dadada" strokeWidth={0.8} dot={false} isAnimationActive={false} />
      ))}
      <Scatter data={rows(blackPts)} dataKey="y" shape={dotShape('#111')} isAnimationActive={false} />
      <Scatter data={rows(blackCloud)} dataKey="y" shape={dotShape('#111')} isAnimationActive={false} />
      <Scatter data={rows(redPts)} dataKey="y" shape={dotShape('#e4121c')} isAnimationActive={false} />
      <Scatter data={rows(redCloud)} dataKey="y" shape={dotShape('#e4121c')} isAnimationActive={false} />
      <Scatter data={rows(bluePts)} dataKey="y" shape={dotShape('#1c14d4')} isAnimationActive={false} />
      <Scatter data={rows(blueScatter)} dataKey="y" shape={dotShape('#1c14d4')} isAnimationActive={false} />
      <Scatter data={rows(blueCore)} dataKey="y" shape={dotShape('#1c14d4')} isAnimationActive={false} />
      <Scatter data={contourLabels.map(([x, y, t, r]) => ({ x, y, t, r }))} dataKey="y" shape={labelShape} isAnimationActive={false} />
      <Scatter data={rows(nmrOpen)} dataKey="y" shape={ringShape} isAnimationActive={false} />
      <Scatter data={rows(nmrFilled)} dataKey="y" shape={fullDot} isAnimationActive={false} />
    </ComposedChart>
  )
}

function PanelB() {
  return (
    <ComposedChart width={1259} height={583} margin={{ top: 20, right: 120, bottom: 39, left: 575.7 }} style={{ position: 'absolute', left: 0, top: 0 }}>
      <XAxis dataKey="x" type="number" domain={[26, 37]} ticks={xTicksB} allowDataOverflow height={30} tickSize={-4} tickMargin={14} tick={tickStyle} stroke={AXIS} strokeWidth={2} tickLine={{ stroke: AXIS, strokeWidth: 1 }} />
      <XAxis xAxisId="top" orientation="top" type="number" domain={[26, 37]} ticks={xTicksB} height={1} tickSize={-4} tick={false} stroke={AXIS} strokeWidth={1.5} />
      <YAxis dataKey="y" type="number" domain={[14, 22]} ticks={[16, 18, 20]} allowDataOverflow width={40} tickSize={-4} tick={false} stroke={AXIS} strokeWidth={1.5} />
      <YAxis yAxisId="right" orientation="right" type="number" domain={[14, 22]} ticks={[16, 18, 20]} width={1} tickSize={-4} tick={false} stroke={AXIS} strokeWidth={1.5} />
      {contours.map(([pts, color], i) => (
        <Line key={i} data={rows(pts)} dataKey="y" stroke="none" dot={polygonDot(color)} isAnimationActive={false} />
      ))}
      {islands.map(([cx, cy, rx, ry, color], i) => (
        <Line key={`i${i}`} data={rows(diamond(cx, cy, rx, ry))} dataKey="y" stroke="none" dot={polygonDot(color)} isAnimationActive={false} />
      ))}
      <Scatter data={rows(nmrInB)} dataKey="y" shape={whiteRing} isAnimationActive={false} />
      <Scatter data={markers.map(([x, y, name, kind]) => ({ x, y, name, kind }))} dataKey="y" shape={markerShape} isAnimationActive={false} />
    </ComposedChart>
  )
}

function ColorBar() {
  return (
    <ComposedChart width={1259} height={583} data={[{ name: 'G', g: barMax }]} barCategoryGap={0} margin={{ top: 21, right: 38, bottom: 69, left: 1155 }} style={{ position: 'absolute', left: 0, top: 0 }}>
      <defs>
        <linearGradient id="feGrad" x1="0" y1="1" x2="0" y2="0">
          {barStops.map(([v, c]) => <stop key={v} offset={v / barMax} stopColor={c} />)}
        </linearGradient>
      </defs>
      <XAxis dataKey="name" hide />
      <YAxis orientation="right" type="number" domain={[0, barMax]} ticks={barTicks} width={40} tickSize={-5} tickMargin={8} tick={{ ...tickStyle, fontSize: 23 }} stroke={AXIS} strokeWidth={1.5} tickLine={{ stroke: AXIS, strokeWidth: 1 }} />
      <YAxis yAxisId="left" type="number" domain={[0, barMax]} ticks={barTicks} width={1} tickSize={-5} tick={false} stroke={AXIS} strokeWidth={1.5} />
      <Bar dataKey="g" fill="url(#feGrad)" isAnimationActive={false} />
    </ComposedChart>
  )
}

const overlayText = (style: React.CSSProperties): React.CSSProperties => ({ position: 'absolute', fontFamily: FONT, color: '#222', whiteSpace: 'nowrap', ...style })

export default function App() {
  return (
    <div style={{ position: 'absolute', left: 0, top: 0, width: 1259, height: 583, background: '#fff', overflow: 'hidden' }}>
      <PanelA />
      <PanelB />
      <ColorBar />
      <div style={overlayText({ left: 94, top: 18, fontSize: 41, fontWeight: 'bold', color: '#000' })}>A</div>
      <div style={overlayText({ left: 627, top: 18, fontSize: 41, fontWeight: 'bold', color: '#000' })}>B</div>
      <div style={overlayText({ left: 485, top: 550, fontSize: 29 })}>RH distance (Å)</div>
      <div style={overlayText({ left: 34, top: 266, fontSize: 29, transform: 'translate(-50%, -50%) rotate(-90deg)' })}>β-hairpin distance (Å)</div>
      <div style={overlayText({ left: 1241, top: 277, fontSize: 27, transform: 'translate(-50%, -50%) rotate(-90deg)' })}>Free Energy (kcal/mol)</div>
      <div style={{ position: 'absolute', left: 621, top: 458, width: 192, height: 49, border: '1.5px solid #666', background: '#fff' }}>
        <div style={{ position: 'absolute', left: 7, top: 4, width: 38, height: 18, borderRadius: '50%', background: '#000', display: 'flex', alignItems: 'center', justifyContent: 'center' }}>
          <div style={{ width: 27, height: 11, borderRadius: '50%', background: '#e8401c', display: 'flex', alignItems: 'center', justifyContent: 'center' }}>
            <div style={{ width: 11, height: 5, borderRadius: '50%', background: '#fff' }} />
          </div>
        </div>
        <div style={{ position: 'absolute', left: 18, top: 28, width: 12, height: 12, borderRadius: '50%', border: '2.5px solid #111' }} />
        <div style={overlayText({ left: 48, top: 2, fontSize: 18.5 })}>REMD ensemble</div>
        <div style={overlayText({ left: 48, top: 26, fontSize: 18.5 })}>NMR ensemble</div>
      </div>
    </div>
  )
}
